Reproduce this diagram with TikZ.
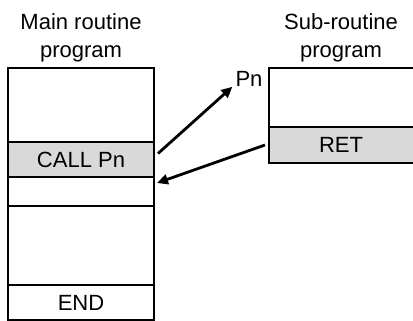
\documentclass[tikz,border=0pt]{standalone}
\usepackage{fontspec}
\setmainfont{Liberation Sans}
\usetikzlibrary{arrows.meta}

\begin{document}
\begin{tikzpicture}[x=1pt, y=-1pt,
    % Colors
    cgray/.style={fill={rgb,255:red,217;green,217;blue,217}},
    % Styles
    cell/.style={draw, line width=1.8pt, minimum width=146pt, inner sep=0pt,
                 outer sep=0pt, font=\fontsize{22}{28}\selectfont},
    title/.style={align=center, font=\fontsize{22}{28}\selectfont},
    arrow/.style={-{Triangle[length=11pt, width=10pt]}, line width=2.8pt},
  ]
  \useasboundingbox (0,0) rectangle (413,321);

  % Titles
  \node[title] (maintitle) at (81, 38) {Main routine\\program};
  \node[title] (subtitle) at (341, 38) {Sub-routine\\program};

  % Main routine program
  \node[cell, minimum height=74pt] (mtop) at (81, 105) {};
  \node[cell, cgray, minimum height=35pt] (call) at (81, 159.5) {CALL Pn};
  \node[cell, minimum height=29pt] (mnext) at (81, 191.5) {};
  \node[cell, minimum height=79pt] (mmid) at (81, 245.5) {};
  \node[cell, minimum height=35pt] (mend) at (81, 302.5) {END};

  % Sub-routine program
  \node[cell, minimum width=150pt, minimum height=59pt] (stop) at (344, 97.5) {};
  \node[cell, cgray, minimum width=150pt, minimum height=36pt] (ret) at (344, 145) {};
  \node[font=\fontsize{22}{28}\selectfont] (rettext) at (341, 145) {RET};
  \node[font=\fontsize{22}{28}\selectfont, inner sep=0pt] (pn) at (249, 79) {Pn};

  % Arrows
  \draw[arrow] ([shift={(4pt,6pt)}]call.east) -- ([xshift=-3pt]pn.south west);
  \draw[arrow] ([xshift=-4pt]ret.west) -- ([shift={(3pt,-6pt)}]mnext.north east);

\end{tikzpicture}
\end{document}
